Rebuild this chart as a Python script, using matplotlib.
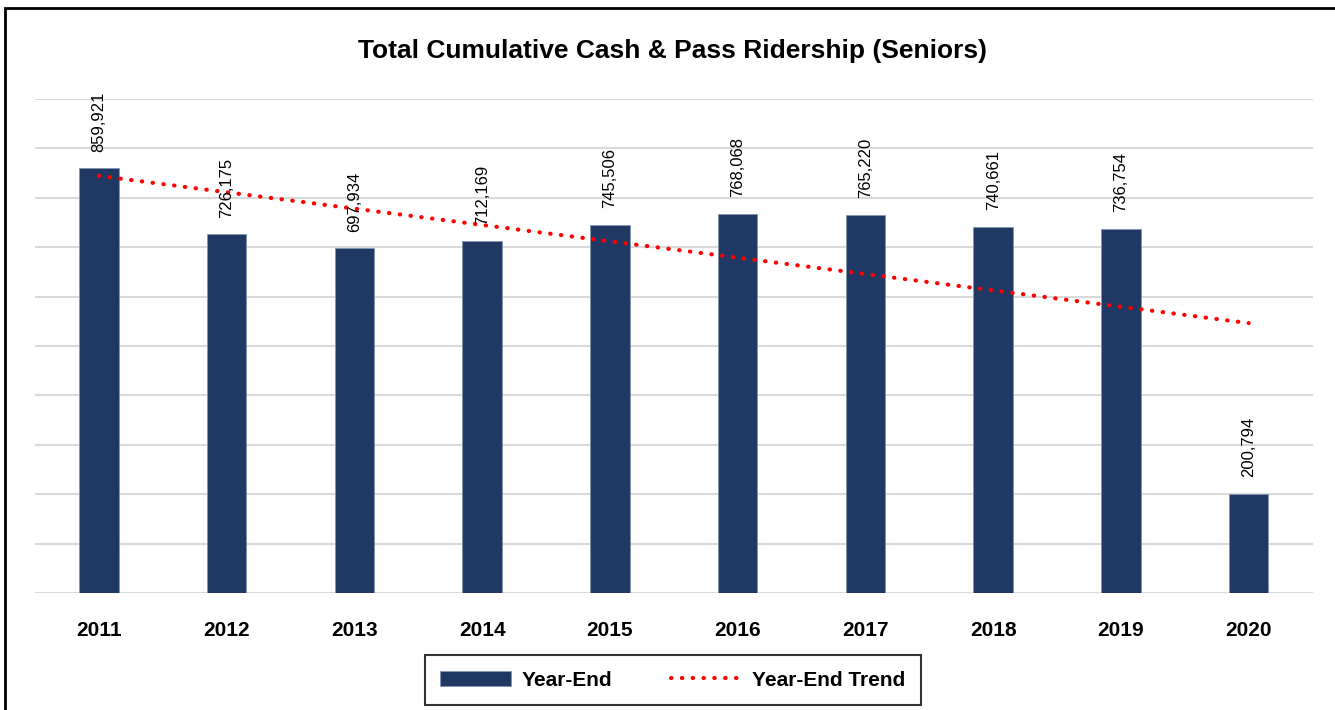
#!/usr/bin/env python

import numpy as np
import matplotlib.pyplot as plt
from matplotlib.patches import Rectangle

years = ['2011', '2012', '2013', '2014', '2015', '2016', '2017', '2018', '2019', '2020']
year_end = [859921, 726175, 697934, 712169, 745506, 768068, 765220, 740661, 736754, 200794]
title = 'Total Cumulative Cash & Pass Ridership (Seniors)'

plt.rcParams['font.family'] = ['Liberation Sans', 'DejaVu Sans']

fig = plt.figure(figsize=(13.35, 7.10), dpi=100)
ax = fig.add_axes([0.0262, 0.1648, 0.957, 0.6958])

x = np.arange(len(years))
bars = ax.bar(x, year_end, width=0.31, color='#203864', edgecolor='#8497B0',
              linewidth=0.6, label='Year-End', zorder=3)

# linear trend, like the spreadsheet trendline
slope, intercept = np.polyfit(x, year_end, 1)
trend, = ax.plot(x, slope * x + intercept, color='#FF0000', linestyle=(0, (0.1, 2.5)),
                 linewidth=3, dash_capstyle='round', label='Year-End Trend', zorder=4)

for xi, v in zip(x, year_end):
    ax.annotate(f'{v:,}', (xi, v), xytext=(0, 12), textcoords='offset points',
                rotation=90, ha='center', va='bottom', fontsize=12, zorder=5)

ax.set_xlim(-0.5, len(years) - 0.5)
ax.set_ylim(0, 1000000)
ax.set_yticks(np.arange(0, 1000001, 100000))
ax.set_yticklabels([])
ax.yaxis.grid(True, color='#D9D9D9', linewidth=1.5, zorder=0)
ax.set_xticks(x)
ax.set_xticklabels(years, fontsize=15, fontweight='bold')
ax.tick_params(length=0, pad=20)
for s in ax.spines.values():
    s.set_visible(False)

fig.text(0.504, 0.928, title, ha='center', va='center', fontsize=19, fontweight='bold')

leg = fig.legend([bars, trend], ['Year-End', 'Year-End Trend'], loc='center',
                 bbox_to_anchor=(0.504, 0.042), ncol=2,
                 prop={'weight': 'bold', 'size': 15}, frameon=True, fancybox=False,
                 edgecolor='black', handlelength=3.4, handletextpad=0.5,
                 columnspacing=2.8, borderpad=0.75, borderaxespad=0)
leg.get_frame().set_linewidth(1.5)

# outer chart border
fig.patches.append(Rectangle((5 / 1335, -0.01), 1.1, (710 - 8) / 710 + 0.01,
                             transform=fig.transFigure, fill=False,
                             edgecolor='black', linewidth=2))

fig.savefig('out.png')
